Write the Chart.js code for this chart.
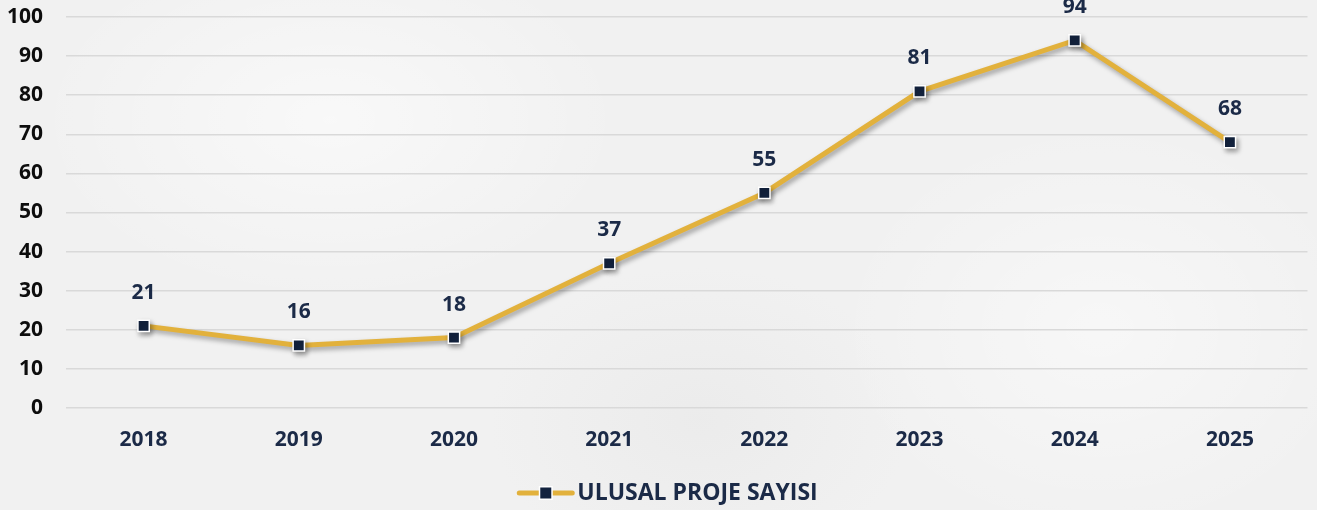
<!DOCTYPE html>
<html>
<head>
<meta charset="utf-8">
<script src="https://cdn.jsdelivr.net/npm/chart.js@4/dist/chart.umd.min.js"></script>
<style>
  html, body { margin: 0; padding: 0; }
  body {
    width: 1317px; height: 510px; overflow: hidden;
    background:
      radial-gradient(ellipse 420px 260px at 330px 120px, rgba(255,255,255,0.55), rgba(255,255,255,0) 70%),
      radial-gradient(ellipse 380px 300px at 1100px 330px, rgba(255,255,255,0.45), rgba(255,255,255,0) 70%),
      radial-gradient(ellipse 300px 220px at 700px 420px, rgba(225,225,225,0.35), rgba(225,225,225,0) 70%),
      #f1f1f1;
  }
  #wrap { position: relative; width: 1317px; height: 510px; }
</style>
</head>
<body>
<div id="wrap"><canvas id="chart" width="1317" height="510"></canvas></div>
<script>
const years = ['2018', '2019', '2020', '2021', '2022', '2023', '2024', '2025'];
const projectCounts = [21, 16, 18, 37, 55, 81, 94, 68];
const seriesName = 'ULUSAL PROJE SAYISI';
const yMin = 0;
const yMax = 100;
const yStep = 10;

const GOLD = '#e2b13c';
const NAVY = '#13233f';
const TEXT_NAVY = '#1b2a47';
const FONT = '"Open Sans", Lato, sans-serif';
const WEIGHT = 'bold';

// soft drop shadow under the line and its markers
const shadowPlugin = {
  id: 'lineShadow',
  beforeDatasetsDraw(chart) {
    const ctx = chart.ctx;
    ctx.save();
    ctx.shadowColor = 'rgba(0,0,0,0.35)';
    ctx.shadowBlur = 5;
    ctx.shadowOffsetX = 2;
    ctx.shadowOffsetY = 3;
  },
  afterDatasetsDraw(chart) {
    chart.ctx.restore();
  }
};

// value labels above each point
const valueLabels = {
  id: 'valueLabels',
  afterDatasetsDraw(chart) {
    const ctx = chart.ctx;
    const meta = chart.getDatasetMeta(0);
    const data = chart.data.datasets[0].data;
    ctx.save();
    ctx.font = WEIGHT + ' 21px ' + FONT;
    ctx.fillStyle = TEXT_NAVY;
    ctx.textAlign = 'center';
    ctx.textBaseline = 'middle';
    meta.data.forEach((pt, i) => {
      ctx.fillText(String(data[i]), pt.x, pt.y - 33);
    });
    ctx.restore();
  }
};

// legend: line sample with square marker, then the series name
const lineLegend = {
  id: 'lineLegend',
  afterDraw(chart) {
    const ctx = chart.ctx;
    const ds = chart.data.datasets[0];
    ctx.save();
    ctx.font = WEIGHT + ' 23px ' + FONT;
    const tw = ctx.measureText(ds.label).width;
    const sample = 57;
    const gap = 3;
    const total = sample + gap + tw;
    const x0 = (chart.width - total) / 2 + 9;
    const y = chart.height - 17;
    ctx.strokeStyle = GOLD;
    ctx.lineWidth = 5;
    ctx.lineCap = 'round';
    ctx.beginPath();
    ctx.moveTo(x0 + 2, y);
    ctx.lineTo(x0 + sample - 2, y);
    ctx.stroke();
    const cx = x0 + sample / 2;
    ctx.fillStyle = '#ffffff';
    ctx.fillRect(cx - 7, y - 7, 14, 14);
    ctx.fillStyle = NAVY;
    ctx.fillRect(cx - 5.5, y - 5.5, 11, 11);
    ctx.fillStyle = TEXT_NAVY;
    ctx.textAlign = 'left';
    ctx.textBaseline = 'middle';
    ctx.fillText(ds.label, x0 + sample + gap, y);
    ctx.restore();
  }
};

new Chart(document.getElementById('chart'), {
  type: 'line',
  data: {
    labels: years,
    datasets: [{
      label: seriesName,
      data: projectCounts,
      borderColor: GOLD,
      borderWidth: 5,
      tension: 0,
      pointStyle: 'rect',
      pointRadius: 8,
      pointHoverRadius: 8,
      pointBackgroundColor: NAVY,
      pointBorderColor: '#ffffff',
      pointBorderWidth: 1.5
    }]
  },
  options: {
    responsive: false,
    animation: false,
    devicePixelRatio: 1,
    layout: { padding: { top: 0, right: 8, bottom: 52, left: 0 } },
    plugins: {
      legend: { display: false },
      tooltip: { enabled: false }
    },
    scales: {
      x: {
        offset: true,
        grid: { display: false, drawTicks: false },
        border: { display: false },
        ticks: {
          color: TEXT_NAVY,
          font: { family: FONT, size: 21, weight: WEIGHT },
          padding: 19
        },
        afterFit(scale) { scale.height = 50; }
      },
      y: {
        min: yMin,
        max: yMax,
        grid: { color: '#d9d9d9', lineWidth: 1.5, drawTicks: false },
        border: { display: false },
        ticks: {
          stepSize: yStep,
          color: '#0d0d0d',
          font: { family: FONT, size: 21, weight: WEIGHT },
          padding: 23
        },
        afterFit(scale) {
          scale.width = 66;
          scale.paddingTop = 17;
          scale.paddingBottom = 0;
        }
      }
    }
  },
  plugins: [shadowPlugin, valueLabels, lineLegend]
});
</script>
</body>
</html>
